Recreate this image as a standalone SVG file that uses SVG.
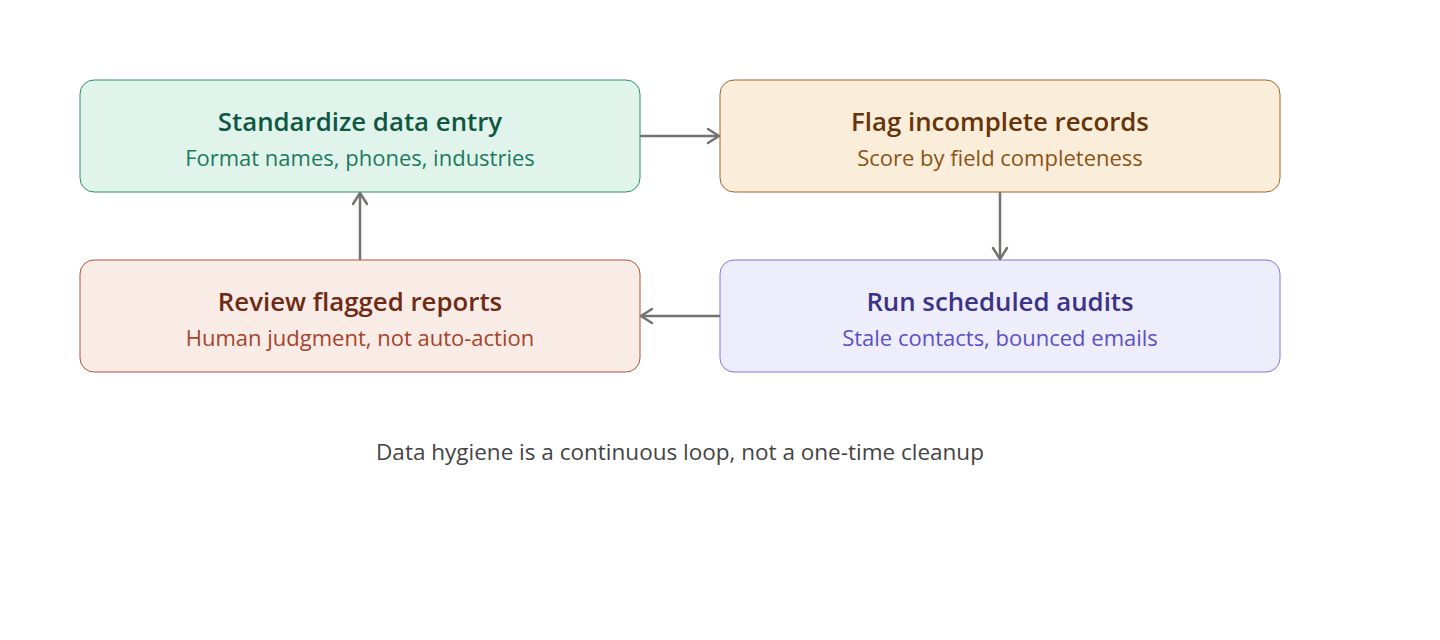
<svg xmlns="http://www.w3.org/2000/svg" width="1440" height="640" viewBox="0 0 1440 640">
<style>
.t{font-family:"Open Sans","Noto Sans",sans-serif;font-weight:600;font-size:25.8px;text-anchor:middle;dominant-baseline:central}
.s{font-family:"Open Sans","Noto Sans",sans-serif;font-size:22px;text-anchor:middle;dominant-baseline:central}
.c{stroke:#737370;stroke-width:2.5;fill:none;marker-end:url(#a)}
</style>
<defs>
<marker id="a" viewBox="0 0 16 18" refX="14" refY="9" markerWidth="16" markerHeight="18" markerUnits="userSpaceOnUse" orient="auto">
<path d="M3,2 L14,9 L3,16" fill="none" stroke="#737370" stroke-width="2.5" stroke-linecap="round" stroke-linejoin="round"/>
</marker>
</defs>
<rect width="1440" height="640" fill="#fff"/>
<g id="n1">
<rect x="80" y="80" width="560" height="112" rx="14" fill="#e1f4ec" stroke="#2f8a6c" stroke-width="1"/>
<text class="t" x="360" y="121" fill="#0e5743">Standardize data entry</text>
<text class="s" x="360" y="157" fill="#1c7a5c">Format names, phones, industries</text>
</g>
<g id="n2">
<rect x="720" y="80" width="560" height="112" rx="14" fill="#faedda" stroke="#9c6428" stroke-width="1"/>
<text class="t" x="1000" y="121" fill="#653509">Flag incomplete records</text>
<text class="s" x="1000" y="157" fill="#8b5415">Score by field completeness</text>
</g>
<g id="n3">
<rect x="720" y="260" width="560" height="112" rx="14" fill="#eeedfb" stroke="#8179d8" stroke-width="1"/>
<text class="t" x="1000" y="301" fill="#3b338a">Run scheduled audits</text>
<text class="s" x="1000" y="337" fill="#5a50c6">Stale contacts, bounced emails</text>
</g>
<g id="n4">
<rect x="80" y="260" width="560" height="112" rx="14" fill="#f9ece7" stroke="#b05538" stroke-width="1"/>
<text class="t" x="360" y="301" fill="#6f2a13">Review flagged reports</text>
<text class="s" x="360" y="337" fill="#a6432a">Human judgment, not auto-action</text>
</g>
<g id="connectors">
<line class="c" x1="640" y1="136" x2="719" y2="136"/>
<line class="c" x1="1000" y1="192" x2="1000" y2="259"/>
<line class="c" x1="720" y1="316" x2="641" y2="316"/>
<line class="c" x1="360" y1="260" x2="360" y2="193"/>
</g>
<text x="680" y="451" font-family="Open Sans,Noto Sans,sans-serif" font-size="22.5" fill="#444" text-anchor="middle" dominant-baseline="central">Data hygiene is a continuous loop, not a one-time cleanup</text>
</svg>
